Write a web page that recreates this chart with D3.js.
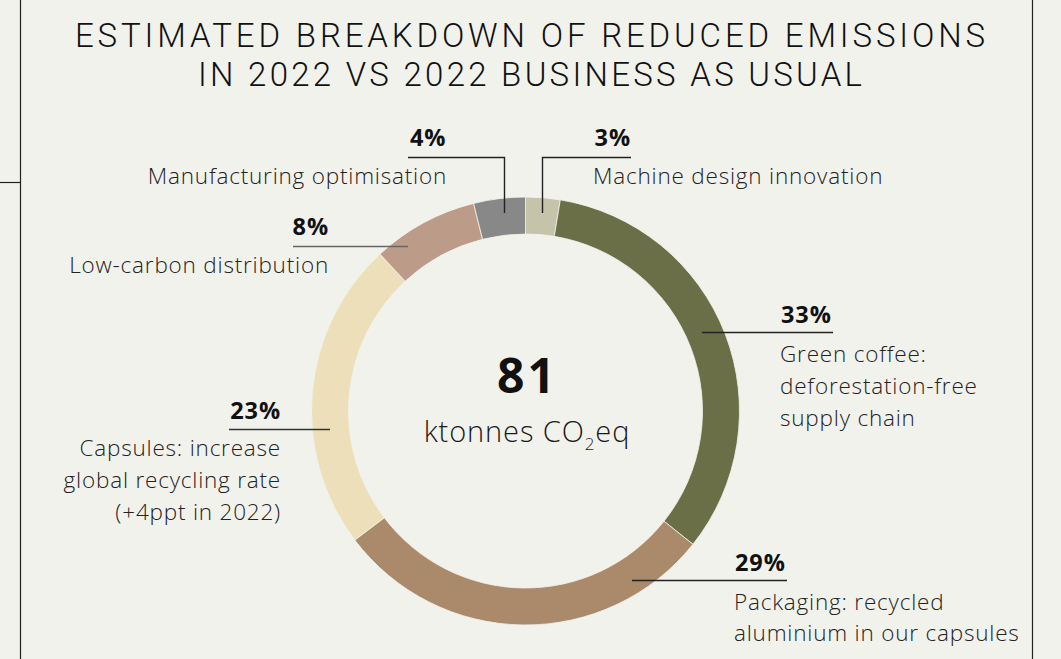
<!DOCTYPE html>
<html><head><meta charset="utf-8">
<script src="https://cdn.jsdelivr.net/npm/d3@7"></script>
<style>
html,body{margin:0;padding:0;background:#f2f2ed;}
svg{display:block;}
</style></head>
<body>
<svg id="chart" width="1061" height="659"></svg>
<script>
// ---- data ----
const categories = ["Machine design innovation","Green coffee: deforestation-free supply chain","Packaging: recycled aluminium in our capsules","Capsules: increase global recycling rate (+4ppt in 2022)","Low-carbon distribution","Manufacturing optimisation"];
const shares = [2.6, 33.1, 29.0, 23.4, 8.0, 3.9];
const pctLabels = ["3%","33%","29%","23%","8%","4%"];
const labelLines = [
  ["Machine design innovation"],
  ["Green coffee:","deforestation-free","supply chain"],
  ["Packaging: recycled","aluminium in our capsules"],
  ["Capsules: increase","global recycling rate","(+4ppt in 2022)"],
  ["Low-carbon distribution"],
  ["Manufacturing optimisation"]
];
const colors = ["#c5c4aa","#6a6f48","#ab896b","#ecdfba","#bc9b88","#878887"];
const titleLines = ["ESTIMATED BREAKDOWN OF REDUCED EMISSIONS","IN 2022 VS 2022 BUSINESS AS USUAL"];
const totalValue = "81";

// ---- layout ----
const W = 1061, H = 659;
const cx = 525.5, cy = 411, rOuter = 214, rInner = 177;
const svg = d3.select("#chart");
const bodyFont = "'Open Sans', Lato, sans-serif";

svg.append("rect").attr("width",W).attr("height",H).attr("fill","#f2f2ed");
// frame lines
svg.append("line").attr("x1",20.5).attr("x2",20.5).attr("y1",0).attr("y2",H).attr("stroke","#222").attr("stroke-width",1.2);
svg.append("line").attr("x1",1032.5).attr("x2",1032.5).attr("y1",0).attr("y2",H).attr("stroke","#222").attr("stroke-width",1.2);
svg.append("line").attr("x1",0).attr("x2",20).attr("y1",182.5).attr("y2",182.5).attr("stroke","#222").attr("stroke-width",1.2);

// title
const titleW = [910, 664];
titleLines.forEach((t,i)=>{
  svg.append("text").attr("x",75 + (i?123:0)).attr("y",47 + i*39)
    .attr("font-family","Roboto, sans-serif").attr("font-weight",300)
    .attr("font-size",33).attr("fill","#111")
    .attr("textLength",titleW[i]).attr("lengthAdjust","spacing")
    .text(t);
});

// donut
const pie = d3.pie().sort(null).value(d=>d).startAngle(0).endAngle(2*Math.PI);
const arc = d3.arc().innerRadius(rInner).outerRadius(rOuter);
const g = svg.append("g").attr("transform",`translate(${cx},${cy})`);
g.selectAll("path").data(pie(shares)).join("path")
  .attr("d",arc).attr("fill",(d,i)=>colors[i])
  .attr("stroke","#f2f2ed").attr("stroke-width",0.8);

// center text
svg.append("text").attr("x",527.5).attr("y",393).attr("text-anchor","middle")
  .attr("font-family",bodyFont).attr("font-weight",700).attr("font-size",48)
  .attr("letter-spacing",3).attr("fill","#111").text(totalValue);
const kt = svg.append("text").attr("x",527).attr("y",442).attr("text-anchor","middle")
  .attr("font-family",bodyFont).attr("font-weight",350).attr("font-size",29)
  .attr("letter-spacing",0.9).attr("fill","#1a1a1a");
kt.append("tspan").text("ktonnes CO");
kt.append("tspan").attr("font-size",17).attr("dy",8).text("2");
kt.append("tspan").attr("dy",-8).text("eq");

// annotations layout
const ann = [
  {px:631, py:146, anchor:"end", tx:593, ty:184, tanchor:"start", path:[[542.5,213],[542.5,157.5],[631,157.5]], col:"#222"},
  {px:781, py:322.5, anchor:"start", tx:780, ty:362, tanchor:"start", path:[[702,332.5],[833,332.5]], col:"#222"},
  {px:735, py:571, anchor:"start", tx:734, ty:609.5, tanchor:"start", path:[[632,580.5],[787,580.5]], col:"#222"},
  {px:281, py:418.5, anchor:"end", tx:281, ty:456, tanchor:"end", path:[[229,429.5],[330,429.5]], col:"#333"},
  {px:329, py:235, anchor:"end", tx:329, ty:272.5, tanchor:"end", path:[[293,246.5],[408,246.5]], col:"#666"},
  {px:410, py:146, anchor:"start", tx:447, ty:184, tanchor:"end", path:[[504.5,213],[504.5,157.5],[408,157.5]], col:"#222"}
];
const line = d3.line();
ann.forEach((a,i)=>{
  svg.append("path").attr("d",line(a.path)).attr("fill","none").attr("stroke",a.col).attr("stroke-width",1.4);
  svg.append("text").attr("x",a.px).attr("y",a.py).attr("text-anchor",a.anchor)
    .attr("font-family",bodyFont).attr("font-weight",700).attr("font-size",23.5)
    .attr("letter-spacing",0.9).attr("fill","#111").text(pctLabels[i]);
  labelLines[i].forEach((l,j)=>{
    svg.append("text").attr("x",a.tx).attr("y",a.ty + j*31.8).attr("text-anchor",a.tanchor)
      .attr("font-family",bodyFont).attr("font-weight",350).attr("font-size",22.5)
      .attr("letter-spacing",0.8).attr("fill","#222").text(l);
  });
});
</script>
</body></html>
